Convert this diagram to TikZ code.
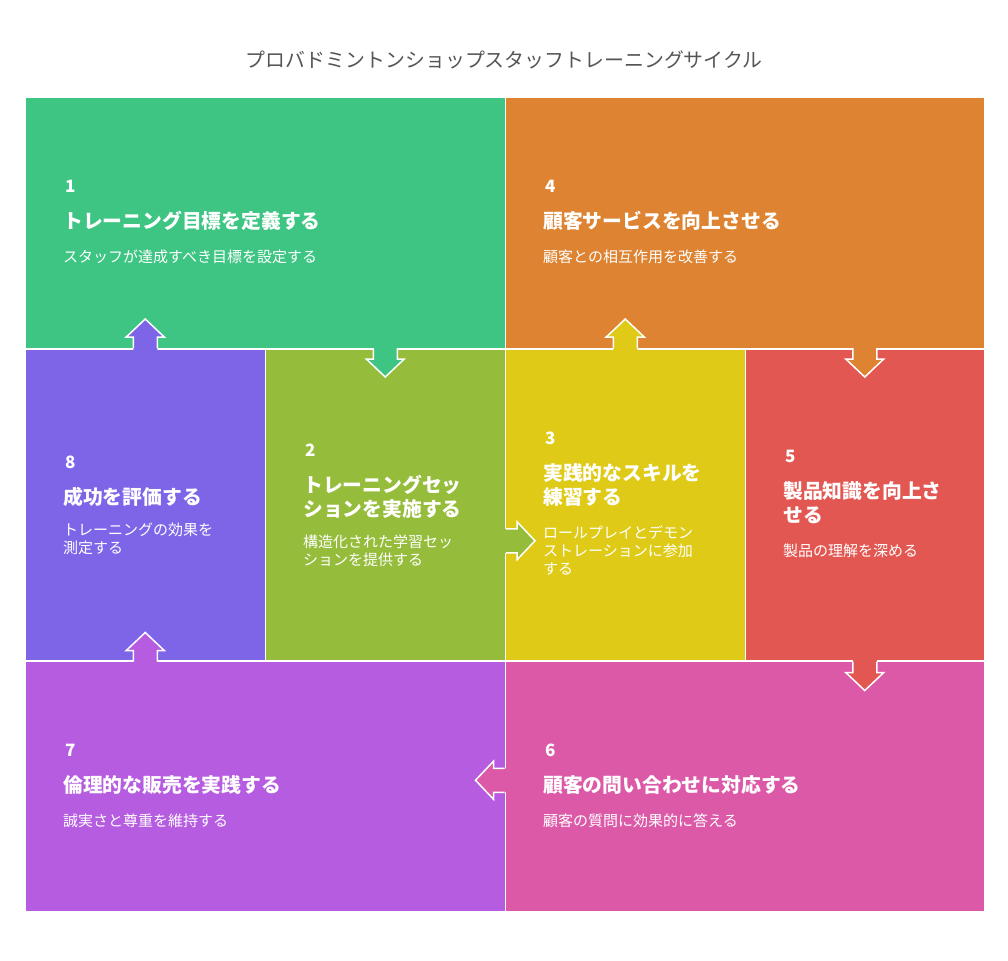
\documentclass[tikz,border=0pt]{standalone}
\usepackage{fontspec}
\setmainfont{Noto Sans CJK JP}
\usetikzlibrary{calc}
\definecolor{setgreen}{HTML}{3EC583}
\definecolor{runolive}{HTML}{95BD3B}
\definecolor{skillyellow}{HTML}{DFCB17}
\definecolor{serviceorange}{HTML}{DD8331}
\definecolor{productred}{HTML}{E35752}
\definecolor{querypink}{HTML}{DC59A8}
\definecolor{ethicpurple}{HTML}{B65CE1}
\definecolor{evalviolet}{HTML}{7E65E8}
\definecolor{titlegray}{HTML}{555555}
\newcommand{\cyclearrow}[3]{% colour, start on the border, rotation
\begin{scope}[shift={(#2)},rotate=#3]
\fill[#1] (-12,-2) -- (-12,11) -- (-19,11) -- (0,29) -- (19,11) -- (12,11) -- (12,-2) -- cycle;
\draw[arrowline] (-12,0) -- (-12,11) -- (-19,11) -- (0,29) -- (19,11) -- (12,11) -- (12,0);
\end{scope}}
\tikzset{
  box/.style={draw=white,line width=1.5pt,anchor=north west,inner sep=0pt},
  arrowline/.style={draw=white,line width=1.5pt,line join=miter},
  num/.style={anchor=west,inner sep=0pt,text=white,font=\bfseries\fontsize{17}{17}\selectfont},
  head/.style={anchor=west,inner sep=0pt,text=white,align=left,font=\bfseries\fontsize{19.8}{24}\selectfont},
  desc/.style={anchor=west,inner sep=0pt,text=white,align=left,font=\fontsize{15}{18}\selectfont},
}
\begin{document}
\begin{tikzpicture}[x=1pt,y=-1pt]
\useasboundingbox (0,0) rectangle (1008,960);
\node[font=\fontsize{19.9}{20}\selectfont,text=titlegray] (title) at (504,60) {プロバドミントンショップスタッフトレーニングサイクル};
% the eight steps
\node[box,fill=setgreen,minimum width=480pt,minimum height=251pt] (b1) at (24.5,97) {};
\node[box,fill=serviceorange,minimum width=479pt,minimum height=251pt] (b4) at (504.5,97) {};
\node[box,fill=evalviolet,minimum width=240pt,minimum height=312pt] (b8) at (24.5,348) {};
\node[box,fill=runolive,minimum width=240pt,minimum height=312pt] (b2) at (264.5,348) {};
\node[box,fill=skillyellow,minimum width=240pt,minimum height=312pt] (b3) at (504.5,348) {};
\node[box,fill=productred,minimum width=239pt,minimum height=312pt] (b5) at (744.5,348) {};
\node[box,fill=ethicpurple,minimum width=480pt,minimum height=251pt] (b7) at (24.5,660) {};
\node[box,fill=querypink,minimum width=479pt,minimum height=251pt] (b6) at (504.5,660) {};
% arrows of the cycle
\cyclearrow{setgreen}{b2.north}{0}
\cyclearrow{runolive}{$(b2.east)+(0,36)$}{90}
\cyclearrow{skillyellow}{b3.north}{180}
\cyclearrow{serviceorange}{b5.north}{0}
\cyclearrow{productred}{b5.south}{0}
\cyclearrow{querypink}{$(b6.west)+(0,-6)$}{-90}
\cyclearrow{ethicpurple}{b8.south}{180}
\cyclearrow{evalviolet}{b8.north}{180}
% texts
\node[num] (n1) at (65,186) {1};
\node[head] (h1) at (63,221) {トレーニング目標を定義する};
\node[desc] (d1) at (63,257) {スタッフが達成すべき目標を設定する};
\node[num] (n4) at (545,186) {4};
\node[head] (h4) at (543,221) {顧客サービスを向上させる};
\node[desc] (d4) at (543,257) {顧客との相互作用を改善する};
\node[num] (n8) at (65,462) {8};
\node[head] (h8) at (63,497) {成功を評価する};
\node[desc] (d8) at (63,539) {トレーニングの効果を\\測定する};
\node[num] (n2) at (305,450) {2};
\node[head] (h2) at (303,497) {トレーニングセッ\\ションを実施する};
\node[desc] (d2) at (303,551) {構造化された学習セッ\\ションを提供する};
\node[num] (n3) at (545,438) {3};
\node[head] (h3) at (543,485) {実践的なスキルを\\練習する};
\node[desc] (d3) at (543,551) {ロールプレイとデモン\\ストレーションに参加\\する};
\node[num] (n5) at (785,456) {5};
\node[head] (h5) at (783,503) {製品知識を向上さ\\せる};
\node[desc] (d5) at (783,551) {製品の理解を深める};
\node[num] (n7) at (65,750) {7};
\node[head] (h7) at (63,785) {倫理的な販売を実践する};
\node[desc] (d7) at (63,821) {誠実さと尊重を維持する};
\node[num] (n6) at (545,750) {6};
\node[head] (h6) at (543,785) {顧客の問い合わせに対応する};
\node[desc] (d6) at (543,821) {顧客の質問に効果的に答える};
\end{tikzpicture}
\end{document}
